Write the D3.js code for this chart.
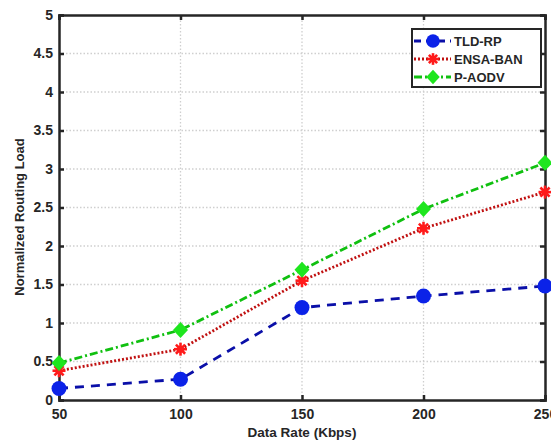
<!DOCTYPE html>
<html>
<head>
<meta charset="utf-8">
<script src="https://cdn.jsdelivr.net/npm/d3@7"></script>
<style>
  body { margin: 0; background: #fff; }
  text { font-family: Arial, "Liberation Sans", sans-serif; font-weight: bold; fill: #262626; }
</style>
</head>
<body>
<div id="container"></div>
<script>
// data
const rates = [50, 100, 150, 200, 250];
const tldRP = [0.15, 0.27, 1.2, 1.35, 1.48];
const ensaBAN = [0.38, 0.66, 1.55, 2.23, 2.7];
const pAODV = [0.48, 0.91, 1.69, 2.48, 3.08];
const yTicks = [0, 0.5, 1, 1.5, 2, 2.5, 3, 3.5, 4, 4.5, 5];
const seriesNames = ["TLD-RP", "ENSA-BAN", "P-AODV"];

const width = 551, height = 440;
const margin = { top: 15, right: 6, bottom: 40, left: 59 };

const svg = d3.select("#container").append("svg")
  .attr("width", width).attr("height", height);

const x = d3.scaleLinear().domain([50, 250]).range([margin.left, width - margin.right]);
const y = d3.scaleLinear().domain([0, 5]).range([height - margin.bottom, margin.top]);

// grid
svg.append("g").selectAll("line.gx")
  .data(rates.slice(1, -1))
  .join("line")
  .attr("x1", d => x(d)).attr("x2", d => x(d))
  .attr("y1", y(0)).attr("y2", y(5))
  .attr("stroke", "#cfcfcf").attr("stroke-width", 1.3).attr("stroke-dasharray", "1.5,2");
svg.append("g").selectAll("line.gy")
  .data(yTicks.slice(1, -1))
  .join("line")
  .attr("x1", x(50)).attr("x2", x(250))
  .attr("y1", d => y(d)).attr("y2", d => y(d))
  .attr("stroke", "#cfcfcf").attr("stroke-width", 1.3).attr("stroke-dasharray", "1.5,2");

// axes, ticks inward
const xAxis = d3.axisBottom(x).tickValues(rates).tickSize(-5).tickPadding(9).tickFormat(d3.format("d"));
const yAxis = d3.axisLeft(y).tickValues(yTicks).tickSize(-5).tickPadding(6).tickFormat(d => d);

svg.append("g").attr("transform", `translate(0,${y(0)})`).call(xAxis);
svg.append("g").attr("transform", `translate(${x(50)},0)`).call(yAxis);
svg.append("g").attr("transform", `translate(0,${y(5)})`)
  .call(d3.axisTop(x).tickValues(rates).tickSize(-5).tickFormat(""));
svg.append("g").attr("transform", `translate(${x(250)},0)`)
  .call(d3.axisRight(y).tickValues(yTicks).tickSize(-5).tickFormat(""));

svg.selectAll(".domain").attr("stroke", "#262626").attr("stroke-width", 2.5);
svg.selectAll(".tick line").attr("stroke", "#262626").attr("stroke-width", 2.5);
svg.selectAll(".tick text").style("font-size", "14px").style("font-family", "Arial, 'Liberation Sans', sans-serif")
  .style("font-weight", "bold").attr("fill", "#262626");

// axis titles
svg.append("text")
  .attr("x", x(150)).attr("y", 437)
  .attr("text-anchor", "middle")
  .style("font-size", "13.5px")
  .text("Data Rate (Kbps)");
svg.append("text")
  .attr("transform", `translate(24,217) rotate(-90)`)
  .attr("text-anchor", "middle")
  .style("font-size", "13px")
  .text("Normalized Routing Load");

// series styling
const styles = [
  { data: tldRP, line: "#0a0fa8", fill: "#0b22e8", dash: "9,7", w: 2.8, marker: "circle" },
  { data: ensaBAN, line: "#c01010", fill: "#ff1a1a", dash: "2,2", w: 2.8, marker: "star" },
  { data: pAODV, line: "#10c010", fill: "#1ee61e", dash: "8,3,2,3", w: 2.8, marker: "diamond" }
];

const lineGen = d3.line().x((d, i) => x(rates[i])).y(d => y(d));

function drawMarker(g, s, cx, cy, k) {
  k = k || 1;
  if (s.marker === "circle") {
    g.append("circle").attr("cx", cx).attr("cy", cy).attr("r", 7.5 * k).attr("fill", s.fill);
  } else if (s.marker === "diamond") {
    const h = 8 * k, w = 7.5 * k;
    g.append("path")
      .attr("d", `M${cx},${cy - h}L${cx + w},${cy}L${cx},${cy + h}L${cx - w},${cy}Z`)
      .attr("fill", s.fill);
  } else {
    const r = 6.5 * k;
    d3.range(8).forEach(j => {
      const a = j * Math.PI / 4;
      g.append("line")
        .attr("x1", cx).attr("y1", cy)
        .attr("x2", cx + r * Math.cos(a)).attr("y2", cy + r * Math.sin(a))
        .attr("stroke", s.fill).attr("stroke-width", 2.6);
    });
    g.append("circle").attr("cx", cx).attr("cy", cy).attr("r", 3.5 * k).attr("fill", s.fill);
  }
}

styles.forEach(s => {
  const g = svg.append("g");
  g.append("path").datum(s.data)
    .attr("d", lineGen)
    .attr("fill", "none")
    .attr("stroke", s.line)
    .attr("stroke-width", s.w)
    .attr("stroke-dasharray", s.dash);
  s.data.forEach((d, i) => drawMarker(g, s, x(rates[i]), y(d)));
});

// legend
const legend = svg.append("g");
legend.append("rect")
  .attr("x", 412).attr("y", 29).attr("width", 129).attr("height", 58)
  .attr("fill", "#fff").attr("stroke", "#262626").attr("stroke-width", 2);
styles.forEach((s, i) => {
  const ly = 41 + i * 18;
  legend.append("line")
    .attr("x1", 414).attr("x2", 451).attr("y1", ly).attr("y2", ly)
    .attr("stroke", s.line).attr("stroke-width", 2.8)
    .attr("stroke-dasharray", i === 0 ? "7,5" : i === 1 ? "2,2" : "8,3,2,3");
  drawMarker(legend, s, 433, ly, 0.9);
  legend.append("text")
    .attr("x", 454).attr("y", ly + 5)
    .style("font-size", "13px")
    .text(seriesNames[i]);
});
</script>
</body>
</html>
